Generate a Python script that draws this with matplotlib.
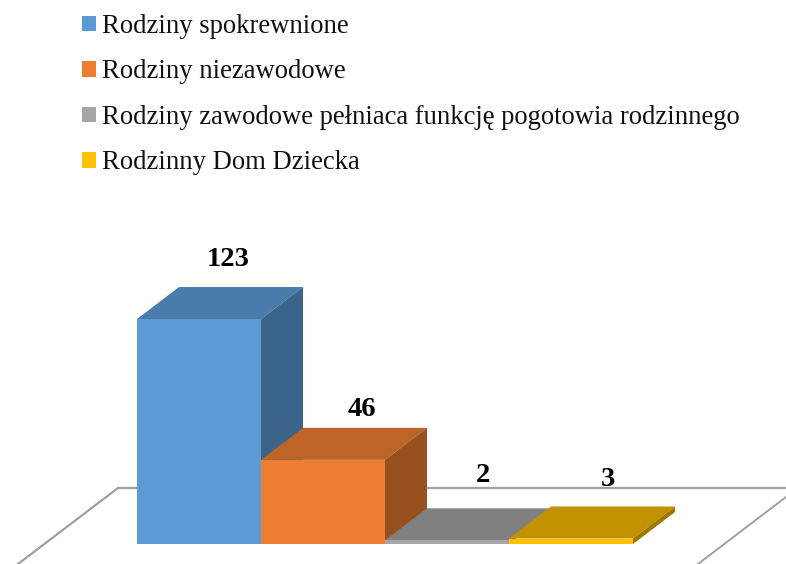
import matplotlib
matplotlib.use('Agg')
import matplotlib.pyplot as plt
from matplotlib.patches import Polygon

plt.rcParams['font.family'] = ['Liberation Serif', 'DejaVu Sans']

categories = ['Rodziny spokrewnione', 'Rodziny niezawodowe',
              'Rodziny zawodowe pełniaca funkcję pogotowia rodzinnego', 'Rodzinny Dom Dziecka']
values = [123, 46, 2, 3]

front_colors = ['#5B9BD5', '#ED7D31', '#A5A5A5', '#FFC000']
top_colors = ['#497CAA', '#BD6427', '#808080', '#C29200']
side_colors = ['#3A6489', '#98501F', '#676767', '#9E7700']

# pixel scale of the picture
px_per_cat = 124.0
px_per_val = 1.829
left_px = 137
base_px = 544
W, H = 786, 564

# the fake 3d depth, in pixels
depth_x = 42 / px_per_cat
depth_y = 32 / px_per_val


def px_x(x):
    return (x - left_px) / px_per_cat - 0.5


def px_y(y):
    return (base_px - y) / px_per_val


fig = plt.figure(figsize=(W / 100, H / 100), dpi=100)
ax = fig.add_axes([0, 0, 1, 1])
ax.set_xlim(px_x(0), px_x(W))
ax.set_ylim(px_y(H), px_y(0))
ax.axis('off')

# floor outline
ax.plot([px_x(18), px_x(118), px_x(W)], [px_y(564), px_y(488), px_y(488)],
        color='#A0A0A0', lw=1.6, zorder=1, solid_joinstyle='miter')
ax.plot([px_x(698), px_x(786)], [px_y(564), px_y(497)], color='#A0A0A0', lw=1.4, zorder=1)

xs = list(range(len(values)))
bars = ax.bar(xs, values, width=1.0, color=front_colors, linewidth=0, label='_nolegend_')

for i, v in enumerate(values):
    l = i - 0.5
    r = i + 0.5
    bars[i].set_zorder(3 + i * 2 + 1)
    ax.add_patch(Polygon([(l, v), (r, v), (r + depth_x, v + depth_y), (l + depth_x, v + depth_y)],
                         closed=True, fc=top_colors[i], ec='none', zorder=3 + i * 2))
    ax.add_patch(Polygon([(r, 0), (r, v), (r + depth_x, v + depth_y), (r + depth_x, depth_y)],
                         closed=True, fc=side_colors[i], ec='none', zorder=3 + i * 2))

# value labels sit above the back edge of each bar
label_dx = [29, 39, 36, 37]
label_dy = [28, 18.5, 33, 27]
for i, v in enumerate(values):
    ax.text(i + label_dx[i] / px_per_cat, v + depth_y + label_dy[i] / px_per_val, str(v),
            ha='center', va='center', fontsize=20.5, fontweight='bold', color='black', zorder=20)

ax.legend(bars, categories, loc='upper left', bbox_to_anchor=(82 / W, 1 - 14 / H),
          bbox_transform=ax.transAxes, borderaxespad=0, borderpad=0, frameon=False,
          fontsize=19.2, handlelength=0.525, handleheight=0.525, handletextpad=0.225,
          labelspacing=0.766, labelcolor='#111111')

fig.savefig('out.png', dpi=100)
